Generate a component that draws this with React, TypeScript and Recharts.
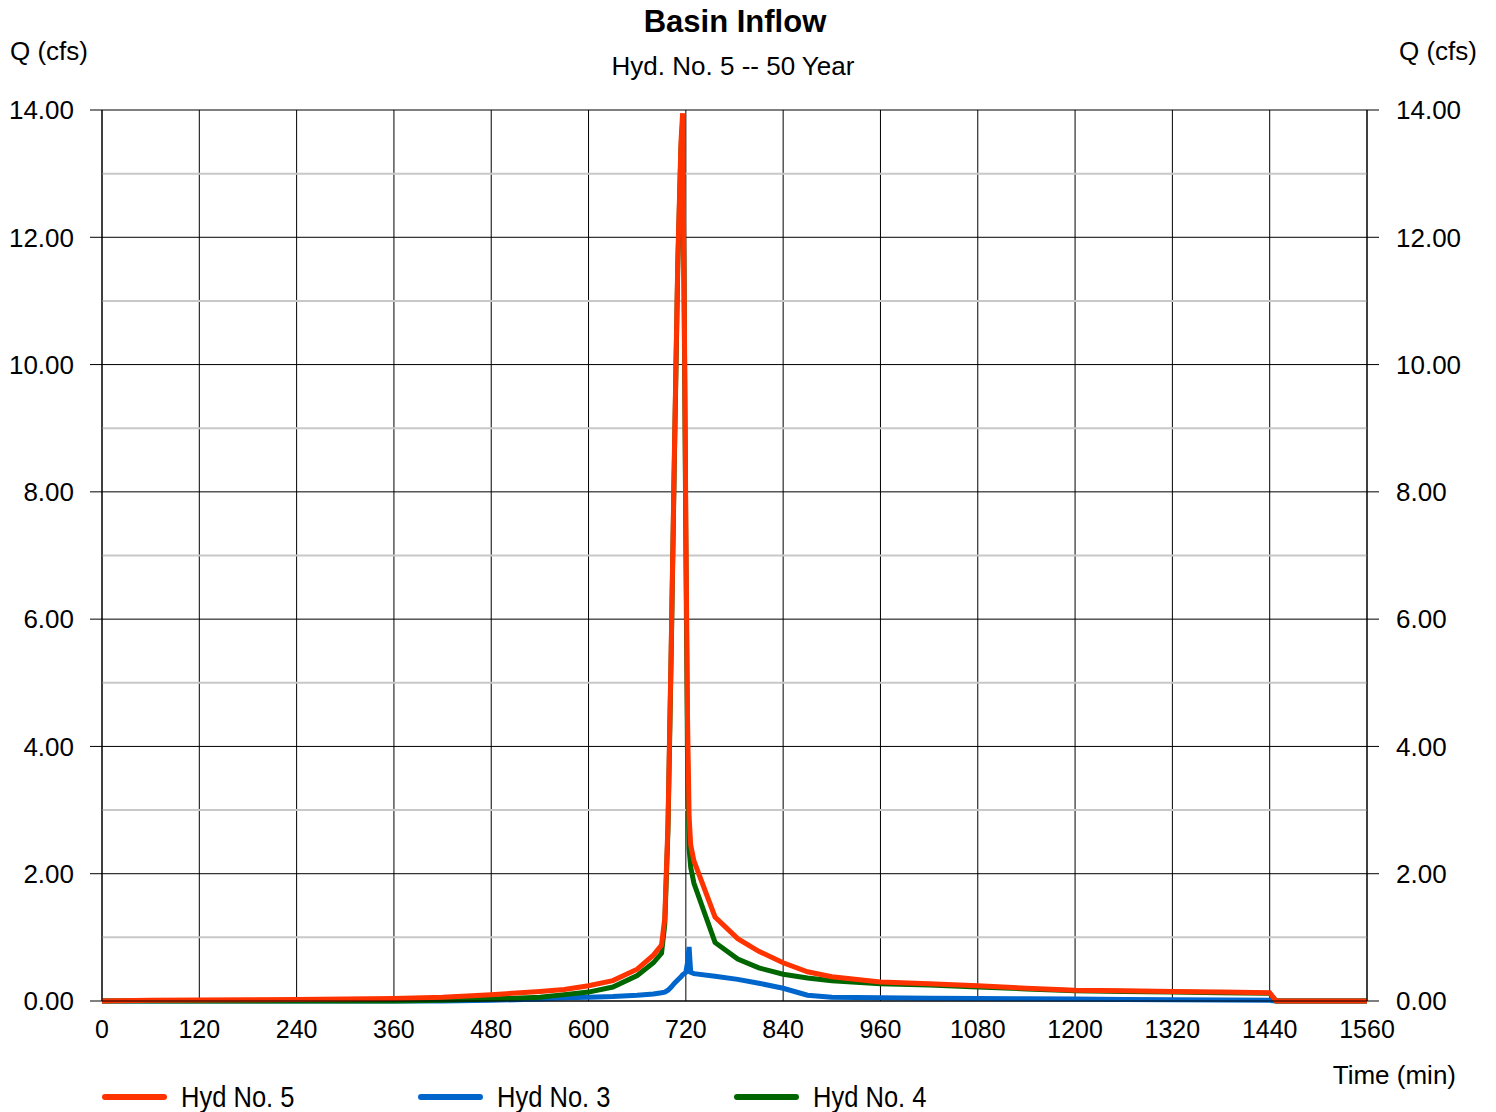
import React from 'react';
import { LineChart, Line, XAxis, YAxis, CartesianGrid, ReferenceLine } from 'recharts';

// time (min)
const times = [
  0, 60, 120, 180, 240, 300, 360, 420, 480, 540, 570, 600, 630, 660, 680, 690, 694, 698, 702, 706,
  710, 714, 716, 718, 720, 722, 724, 726, 730, 756, 784, 810, 840, 870, 900, 960, 1020, 1080, 1140,
  1200, 1260, 1320, 1380, 1440, 1448, 1500, 1560,
];

// Q (cfs)
const hyd5 = [
  0, 0.01, 0.015, 0.02, 0.025, 0.03, 0.04, 0.06, 0.1, 0.15, 0.18, 0.24, 0.32, 0.5, 0.72, 0.88, 1.3, 2.8, 5.6, 8.7,
  11.6, 13.5, 13.95, 11, 7.5, 4.5, 2.9, 2.45, 2.2, 1.32, 0.98, 0.78, 0.6, 0.46, 0.38, 0.3, 0.27, 0.24, 0.2,
  0.17, 0.16, 0.15, 0.14, 0.13, 0, 0, 0,
];

const hyd3 = [
  0, 0, 0, 0, 0, 0, 0, 0, 0.01, 0.03, 0.05, 0.06, 0.07, 0.09, 0.11, 0.13, 0.14, 0.17, 0.22, 0.28,
  0.33, 0.38, 0.41, 0.43, 0.45, 0.6, 0.85, 0.45, 0.43, 0.39, 0.34, 0.28, 0.2, 0.09, 0.06, 0.05, 0.045, 0.04, 0.035,
  0.03, 0.025, 0.02, 0.015, 0.01, 0, 0, 0,
];

const hyd4 = [
  0, 0, 0, 0, 0, 0, 0, 0.01, 0.03, 0.06, 0.1, 0.14, 0.22, 0.4, 0.6, 0.75, 1.2, 2.7, 5.5, 8.6,
  11.5, 13.4, 13.8, 10.8, 7.2, 3.9, 2.4, 2.1, 1.85, 0.92, 0.66, 0.52, 0.42, 0.36, 0.32, 0.27, 0.25, 0.22, 0.19,
  0.16, 0.15, 0.14, 0.13, 0.12, 0, 0, 0,
];

const xTicks = [0, 120, 240, 360, 480, 600, 720, 840, 960, 1080, 1200, 1320, 1440, 1560];
const yTicks = [0, 2, 4, 6, 8, 10, 12, 14];
const yMinor = [1, 3, 5, 7, 9, 11, 13];

const series = [
  { key: 'hyd5', name: 'Hyd No. 5', color: '#ff3300' },
  { key: 'hyd3', name: 'Hyd No. 3', color: '#0066cc' },
  { key: 'hyd4', name: 'Hyd No. 4', color: '#006600' },
];

const data = times.map((t, i) => ({ t, hyd5: hyd5[i], hyd3: hyd3[i], hyd4: hyd4[i] }));

const font = '"Liberation Sans", Arial, sans-serif';
const xTickStyle = { fontSize: 25, fill: '#000', fontFamily: font };
const yTickStyle = { fontSize: 26, fill: '#000', fontFamily: font };

export default function App() {
  return (
    <div style={{ position: 'absolute', left: 0, top: 0, width: 1496, height: 1112, background: '#fff', fontFamily: font }}>
      <LineChart width={1496} height={1112} data={data} margin={{ top: 110, right: 0, bottom: 71, left: 0 }}>
        <CartesianGrid yAxisId="left" stroke="#000" strokeWidth={1} />
        {yMinor.map((v) => (
          <ReferenceLine key={v} yAxisId="left" y={v} stroke="#c8c8c8" strokeWidth={2} />
        ))}
        <XAxis
          dataKey="t"
          type="number"
          domain={[0, 1560]}
          ticks={xTicks}
          interval={0}
          tickLine={false}
          tickMargin={13}
          height={40}
          axisLine={{ stroke: '#000' }}
          tick={xTickStyle}
        />
        <YAxis
          yAxisId="left"
          orientation="left"
          width={102}
          domain={[0, 14]}
          ticks={yTicks}
          interval={0}
          tickSize={12}
          tickMargin={16}
          tickFormatter={(v: number) => v.toFixed(2)}
          tickLine={{ stroke: '#000' }}
          axisLine={{ stroke: '#000' }}
          tick={yTickStyle}
        />
        <YAxis
          yAxisId="right"
          orientation="right"
          width={129}
          domain={[0, 14]}
          ticks={yTicks}
          interval={0}
          tickSize={12}
          tickMargin={17}
          tickFormatter={(v: number) => v.toFixed(2)}
          tickLine={{ stroke: '#000' }}
          axisLine={{ stroke: '#000' }}
          tick={yTickStyle}
        />
        <Line yAxisId="right" type="linear" dataKey="hyd3" stroke="#0066cc" strokeWidth={5} dot={false} isAnimationActive={false} />
        <Line yAxisId="left" type="linear" dataKey="hyd4" stroke="#006600" strokeWidth={5} dot={false} isAnimationActive={false} />
        <Line yAxisId="left" type="linear" dataKey="hyd5" stroke="#ff3300" strokeWidth={5} dot={false} isAnimationActive={false} />
      </LineChart>

      <div style={{ position: 'absolute', left: 0, width: 1470, top: 6, textAlign: 'center', fontSize: 31, lineHeight: '31px', fontWeight: 'bold' }}>
        Basin Inflow
      </div>
      <div style={{ position: 'absolute', left: 0, width: 1466, top: 53, textAlign: 'center', fontSize: 26, lineHeight: '26px' }}>
        Hyd. No. 5 -- 50 Year
      </div>
      <div style={{ position: 'absolute', left: 10, top: 38, fontSize: 26, lineHeight: '26px' }}>Q (cfs)</div>
      <div style={{ position: 'absolute', right: 19, top: 38, fontSize: 26, lineHeight: '26px' }}>Q (cfs)</div>
      <div style={{ position: 'absolute', right: 40, top: 1062, fontSize: 26, lineHeight: '26px' }}>Time (min)</div>

      {series.map((s, i) => (
        <div key={s.key} style={{ position: 'absolute', left: 102 + i * 316, top: 1082, height: 30, display: 'flex', alignItems: 'center' }}>
          <div style={{ width: 65, height: 6, borderRadius: 3, background: s.color }} />
          <span
            style={{
              marginLeft: 14,
              fontSize: 29,
              lineHeight: '30px',
              display: 'inline-block',
              transform: 'scaleX(0.88)',
              transformOrigin: 'left center',
              whiteSpace: 'nowrap',
            }}
          >
            {s.name}
          </span>
        </div>
      ))}
    </div>
  );
}
